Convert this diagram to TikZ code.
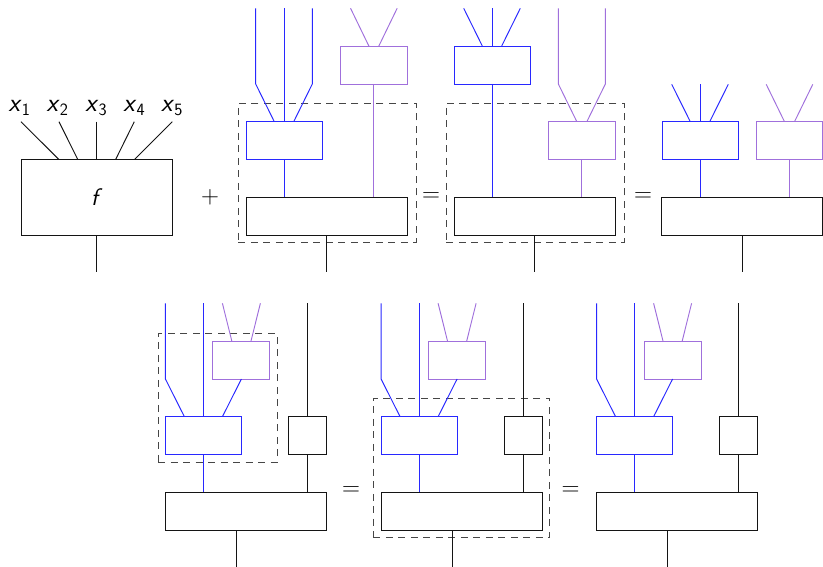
\documentclass[tikz,border=0pt]{standalone}
\usepackage{amsmath}
\definecolor{myblue}{RGB}{40,40,255}
\definecolor{mypurple}{RGB}{160,112,220}
\definecolor{myblack}{RGB}{20,20,20}
\definecolor{mygray}{RGB}{70,70,70}
\tikzset{
  wire/.style={line width=0.95pt},
  bluewire/.style={wire, draw=myblue},
  purplewire/.style={wire, draw=mypurple},
  blackwire/.style={wire, draw=myblack},
  dbox/.style={draw, line width=0.95pt, inner sep=0pt, outer sep=0pt, minimum height=38pt},
  bluebox/.style={dbox, draw=myblue, minimum width=76pt},
  purplebox/.style={dbox, draw=mypurple, minimum width=66.3pt},
  blackbox/.style={dbox, draw=myblack},
  dashbox/.style={draw=mygray, line width=0.95pt, dash pattern=on 7pt off 5.5pt, inner sep=0pt, outer sep=0pt},
  lab/.style={font=\fontsize{24}{28}\selectfont, inner sep=0pt},
  xlab/.style={font=\fontsize{26}{30}\selectfont, inner sep=0pt},
}
\newcommand{\lowerdiag}[2]{%
\begin{scope}[xshift=#2pt]
  \node[bluebox] (#1b) at (0,435.7) {};
  \node[purplebox, minimum width=57pt] (#1p) at (38,360) {};
  \node[blackbox, minimum width=38pt] (#1s) at (104,435.7) {};
  \node[blackbox, minimum width=161pt] (#1k) at (42.5,511.3) {};
  \coordinate (#1t1) at (-38,303.3);
  \coordinate (#1m1) at (-38,379);
  \coordinate (#1t2) at (0,303.3);
  \coordinate (#1t3) at (19,303.3);
  \coordinate (#1t4) at (57,303.3);
  \coordinate (#1t5) at (104,303.3);
  \coordinate (#1o) at (33.2,567);
  \draw[bluewire] (#1t1) -- (#1m1) -- ([xshift=-19pt]#1b.north);
  \draw[bluewire] (#1t2) -- (#1b.north);
  \draw[bluewire] (#1p.south) -- ([xshift=19pt]#1b.north);
  \draw[purplewire] (#1t3) -- ([xshift=-9.6pt]#1p.north);
  \draw[purplewire] (#1t4) -- ([xshift=9.6pt]#1p.north);
  \draw[blackwire] (#1t5) -- (#1s.north);
  \draw[blackwire] (#1s.south) -- (#1s.south |- #1k.north);
  \draw[bluewire] (#1b.south) -- (#1b.south |- #1k.north);
  \draw[blackwire] (#1o |- #1k.south) -- (#1o);
\end{scope}}
\begin{document}
\begin{tikzpicture}[x=1pt,y=-1pt]
\useasboundingbox (0,0) rectangle (823,567);

% --- f box with inputs
\node[blackbox, minimum width=151.3pt, minimum height=75.7pt, lab] (f) at (96.7,197.2) {\textsf{\textsl{f}}};
\foreach \i/\lx/\wx/\dx in {1/19.5/21/-38, 2/57.5/59/-19, 3/96.3/96.7/0, 4/134.3/134.3/19, 5/172/172.3/38} {
  \node[xlab, anchor=base] (x\i) at (\lx,111.3) {$\textsf{\textsl{x}}_{\mathsf{\i}}$};
  \coordinate (c\i) at (\wx,121.7);
  \draw[blackwire] (c\i) -- ([xshift=\dx pt]f.north);
}
\coordinate (fo) at (96.7,272.5);
\draw[blackwire] (f.south) -- (fo);

\node[lab] (plus) at (210,197) {$+$};
\node[lab] (eq1) at (431,197) {$=$};
\node[lab] (eq2) at (643,197) {$=$};
\node[lab] (eq3) at (351,491) {$=$};
\node[lab] (eq4) at (570.5,491) {$=$};

% --- diagram 2
\begin{scope}[xshift=284pt]
  \node[dashbox, minimum width=177.7pt, minimum height=139.7pt] (Bd) at (43.15,172.85) {};
  \node[bluebox] (Bb) at (0,140.7) {};
  \node[purplebox] (Bp) at (89.85,65) {};
  \node[blackbox, minimum width=161pt] (Bk) at (42.5,216.3) {};
  \coordinate (Bt1) at (-28.3,8.3);
  \coordinate (Bm1) at (-28.3,84);
  \coordinate (Bt2) at (0,8.3);
  \coordinate (Bt3) at (28.3,8.3);
  \coordinate (Bm3) at (28.3,84);
  \coordinate (Bt4) at (66.55,8.3);
  \coordinate (Bt5) at (113.15,8.3);
  \coordinate (Bo) at (42.5,272.5);
  \draw[bluewire] (Bt1) -- (Bm1) -- ([xshift=-9.7pt]Bb.north);
  \draw[bluewire] (Bt2) -- (Bb.north);
  \draw[bluewire] (Bt3) -- (Bm3) -- ([xshift=9.7pt]Bb.north);
  \draw[purplewire] (Bt4) -- ([xshift=-5pt]Bp.north);
  \draw[purplewire] (Bt5) -- ([xshift=5pt]Bp.north);
  \draw[purplewire] (Bp.south) -- (Bp.south |- Bk.north);
  \draw[bluewire] (Bb.south) -- (Bb.south |- Bk.north);
  \draw[blackwire] (Bk.south) -- (Bo);
\end{scope}

% --- diagram 3
\begin{scope}[xshift=492pt]
  \node[dashbox, minimum width=177.7pt, minimum height=139.7pt] (Cd) at (43.15,172.85) {};
  \node[bluebox] (Cb) at (0,65) {};
  \node[purplebox] (Cp) at (89.85,140.7) {};
  \node[blackbox, minimum width=161pt] (Ck) at (42.5,216.3) {};
  \coordinate (Ct1) at (-28.3,8.3);
  \coordinate (Ct2) at (0,8.3);
  \coordinate (Ct3) at (28.3,8.3);
  \coordinate (Ct4) at (66.35,8.3);
  \coordinate (Cm4) at (66.35,84);
  \coordinate (Ct5) at (113.35,8.3);
  \coordinate (Cm5) at (113.35,84);
  \coordinate (Co) at (42.5,272.5);
  \draw[bluewire] (Ct1) -- ([xshift=-9.7pt]Cb.north);
  \draw[bluewire] (Ct2) -- (Cb.north);
  \draw[bluewire] (Ct3) -- ([xshift=9.7pt]Cb.north);
  \draw[purplewire] (Ct4) -- (Cm4) -- ([xshift=-5pt]Cp.north);
  \draw[purplewire] (Ct5) -- (Cm5) -- ([xshift=5pt]Cp.north);
  \draw[bluewire] (Cb.south) -- (Cb.south |- Ck.north);
  \draw[purplewire] (Cp.south) -- (Cp.south |- Ck.north);
  \draw[blackwire] (Ck.south) -- (Co);
\end{scope}

% --- diagram 4
\begin{scope}[xshift=700pt]
  \node[bluebox] (Db) at (0,140.7) {};
  \node[purplebox] (Dp) at (89.5,140.7) {};
  \node[blackbox, minimum width=161pt] (Dk) at (42.4,216.3) {};
  \coordinate (Dt1) at (-28.3,84.3);
  \coordinate (Dt2) at (0,84.3);
  \coordinate (Dt3) at (28.3,84.3);
  \coordinate (Dt4) at (66.2,84.3);
  \coordinate (Dt5) at (112.8,84.3);
  \coordinate (Do) at (42.4,272.5);
  \draw[bluewire] (Dt1) -- ([xshift=-9.7pt]Db.north);
  \draw[bluewire] (Dt2) -- (Db.north);
  \draw[bluewire] (Dt3) -- ([xshift=9.7pt]Db.north);
  \draw[purplewire] (Dt4) -- ([xshift=-5pt]Dp.north);
  \draw[purplewire] (Dt5) -- ([xshift=5pt]Dp.north);
  \draw[bluewire] (Db.south) -- (Db.south |- Dk.north);
  \draw[purplewire] (Dp.south) -- (Dp.south |- Dk.north);
  \draw[blackwire] (Dk.south) -- (Do);
\end{scope}

% --- bottom row
\node[dashbox, minimum width=119pt, minimum height=128.3pt] (Ed) at (217.7,397.85) {};
\node[dashbox, minimum width=176pt, minimum height=139.7pt] (Fd) at (461.3,467.85) {};
\lowerdiag{E}{203.4}
\lowerdiag{F}{419.1}
\lowerdiag{G}{634.6}
\end{tikzpicture}
\end{document}
